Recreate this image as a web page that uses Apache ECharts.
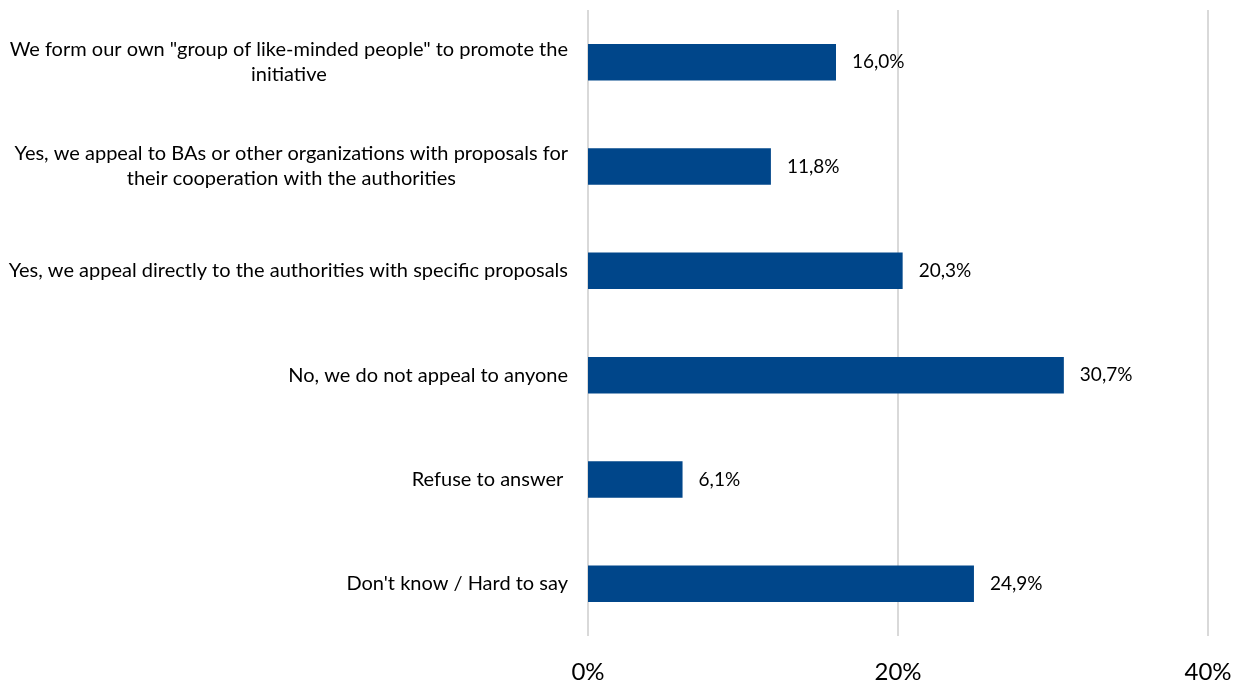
<!DOCTYPE html>
<html>
<head>
<meta charset="utf-8">
<script src="https://cdn.jsdelivr.net/npm/echarts@6/dist/echarts.min.js"></script>
<style>
  html, body { margin: 0; padding: 0; background: #fff; }
  #chart { width: 1237px; height: 684px; }
</style>
</head>
<body>
<div id="chart"></div>
<script>
// Survey answers, listed top to bottom
const categories = [
  'We form our own "group of like-minded people" to promote the\ninitiative',
  'Yes, we appeal to BAs or other organizations with proposals for\ntheir cooperation with the authorities',
  'Yes, we appeal directly to the authorities with specific proposals',
  'No, we do not appeal to anyone',
  'Refuse to answer ',
  "Don't know / Hard to say"
];
// Share of respondents, %
const shares = [16.0, 11.8, 20.3, 30.7, 6.1, 24.9];
// Value axis ticks
const axisMax = 40;
const axisStep = 20;

const fontFamily = 'Lato, "Open Sans", sans-serif';
const chart = echarts.init(document.getElementById('chart'));

chart.setOption({
  animation: false,
  grid: { left: 588, right: 29, top: 10, bottom: 47, containLabel: false },
  xAxis: {
    type: 'value',
    min: 0,
    max: axisMax,
    interval: axisStep,
    axisLine: { show: false },
    axisTick: { show: false },
    splitLine: { show: true, lineStyle: { color: '#d9d9d9', width: 2 } },
    axisLabel: {
      margin: 24,
      fontSize: 24,
      color: '#000',
      fontFamily,
      formatter: v => v + '%'
    }
  },
  yAxis: {
    type: 'category',
    inverse: true,
    data: categories,
    axisLine: { show: false },
    axisTick: { show: false },
    axisLabel: {
      margin: 20,
      align: 'right',
      // each wrapped line is centred inside the label block
      formatter: v => v.split('\n').map(s => '{c|' + s.replace(/ $/, '\u00a0') + '}').join('\n'),
      rich: {
        c: {
          align: 'center',
          fontSize: 20,
          lineHeight: 25,
          color: '#000',
          fontFamily
        }
      }
    }
  },
  series: [{
    type: 'bar',
    data: shares,
    barCategoryGap: '65%',
    itemStyle: { color: '#00468A' },
    label: {
      show: true,
      position: 'right',
      distance: 16,
      fontSize: 19,
      color: '#000',
      fontFamily,
      formatter: p => p.value.toFixed(1).replace('.', ',') + '%'
    }
  }]
});
</script>
</body>
</html>
